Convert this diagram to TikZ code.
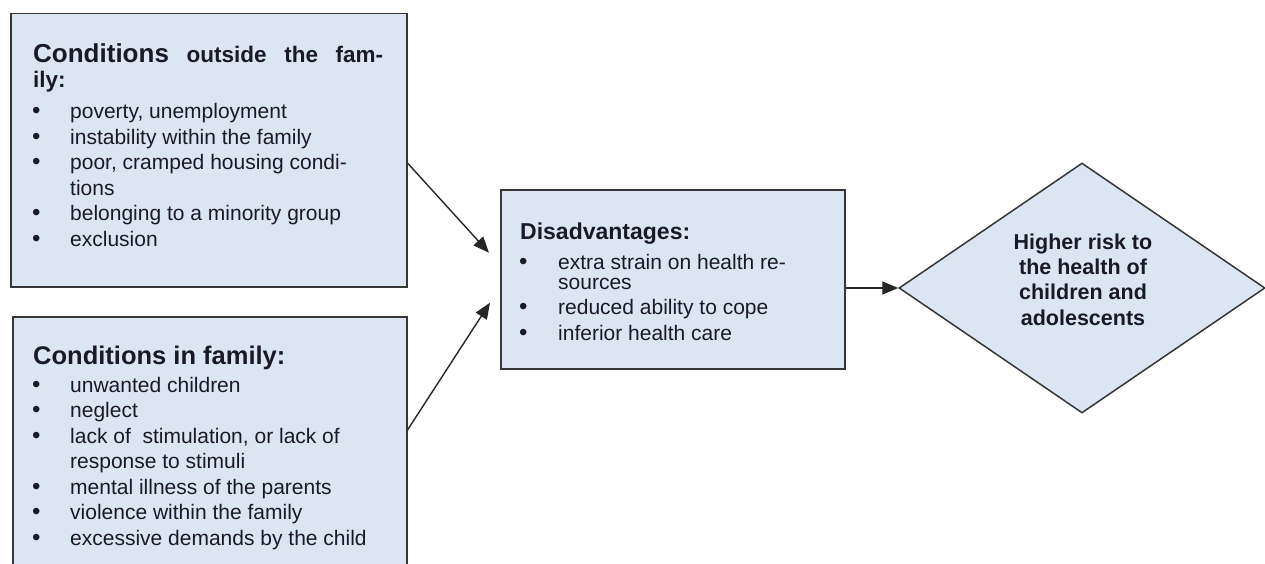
\documentclass[tikz,border=0pt]{standalone}
\usepackage{fontspec}
\setmainfont{Liberation Sans}
\usetikzlibrary{shapes.geometric,arrows.meta,calc}
\definecolor{boxfill}{HTML}{DCE6F2}
\definecolor{edge}{HTML}{363636}
\definecolor{ink}{HTML}{1A1A26}
\begin{document}
\begin{tikzpicture}[x=1pt,y=-1pt,
  box/.style={draw=edge,fill=boxfill,line width=1.5pt,inner sep=0,anchor=north west},
  ln/.style={anchor=base west,inner sep=0,text=ink,font=\fontsize{21}{25}\selectfont},
  bl/.style={anchor=base west,inner sep=0,text=ink,font=\fontsize{24}{25}\selectfont},
  hd/.style={anchor=base west,inner sep=0,text=ink,font=\bfseries\fontsize{22.5}{25}\selectfont},
  dtxt/.style={anchor=base,inner sep=0,text=ink,font=\bfseries\fontsize{21.5}{25}\selectfont},
  arr/.style={draw=black!85,line width=1.4pt,-{Triangle[length=16pt,width=13pt]}}]
\useasboundingbox (0,0) rectangle (1265,564);

% boxes
\node[box,minimum width=396pt,minimum height=273pt] (b1) at (10,13) {};
\node[box,minimum width=394pt,minimum height=262pt] (b2) at (12,316) {};
\node[box,minimum width=344pt,minimum height=179pt] (b3) at (500,189) {};
\node[diamond,draw=edge,fill=boxfill,line width=1.5pt,inner sep=0,
      minimum width=366pt,minimum height=250pt] (d) at (1082,288) {};

% box 1 text
\node[hd] (t1a) at (33,63) {\hbox to 350pt{{\fontsize{26}{26}\selectfont Conditions}\hfill outside\hfill the\hfill fam-}};
\node[hd] (t1b) at (33,88) {ily:};
\node[bl] (p1) at (32,119) {•}; \node[ln] (q1) at (70,119) {poverty, unemployment};
\node[bl] (p2) at (32,144.4) {•}; \node[ln] (q2) at (70,144.4) {instability within the family};
\node[bl] (p3) at (32,169.8) {•}; \node[ln] (q3) at (70,169.8) {poor, cramped housing condi-};
\node[ln] (q3b) at (70,195.2) {tions};
\node[bl] (p4) at (32,220.6) {•}; \node[ln] (q4) at (70,220.6) {belonging to a minority group};
\node[bl] (p5) at (32,246) {•}; \node[ln] (q5) at (70,246) {exclusion};

% box 2 text
\node[hd] (t2) at (33,364) {\fontsize{25.5}{26}\selectfont Conditions in family:};
\node[bl] (r1) at (32,392) {•}; \node[ln] (s1t) at (70,392) {unwanted children};
\node[bl] (r2) at (32,417.5) {•}; \node[ln] (s2t) at (70,417.5) {neglect};
\node[bl] (r3) at (32,443) {•}; \node[ln] (s3t) at (70,443) {lack of\ \ stimulation, or lack of};
\node[ln] (s3b) at (70,468.5) {response to stimuli};
\node[bl] (r4) at (32,494) {•}; \node[ln] (s4t) at (70,494) {mental illness of the parents};
\node[bl] (r5) at (32,519.5) {•}; \node[ln] (s5t) at (70,519.5) {violence within the family};
\node[bl] (r6) at (32,545) {•}; \node[ln] (s6t) at (70,545) {excessive demands by the child};

% box 3 text
\node[hd] (t3) at (520,239) {\fontsize{23}{25}\selectfont Disadvantages:};
\node[bl] (u1) at (519,269) {•}; \node[ln] (v1) at (558,269) {extra strain on health re-};
\node[ln] (v1b) at (558,289) {sources};
\node[bl] (u2) at (519,314) {•}; \node[ln] (v2) at (558,314) {reduced ability to cope};
\node[bl] (u3) at (519,340) {•}; \node[ln] (v3) at (558,340) {inferior health care};

% diamond text
\node[dtxt] (w1) at (1083,249) {Higher risk to};
\node[dtxt] (w2) at (1083,274) {the health of};
\node[dtxt] (w3) at (1083,299.5) {children and};
\node[dtxt] (w4) at (1083,325) {adolescents};

% connectors
\coordinate (a1s) at ($(b1.north east)+(0,150)$);
\coordinate (a1e) at ($(b3.west)+(-11,-26.5)$);
\coordinate (a2s) at ($(b2.north east)+(0,114)$);
\coordinate (a2e) at ($(b3.west)+(-10,23.5)$);
\draw[arr] (a1s) -- (a1e);
\draw[arr] (a2s) -- (a2e);
\draw[arr] (b3.east |- d.west) -- (d.west);
\end{tikzpicture}
\end{document}
